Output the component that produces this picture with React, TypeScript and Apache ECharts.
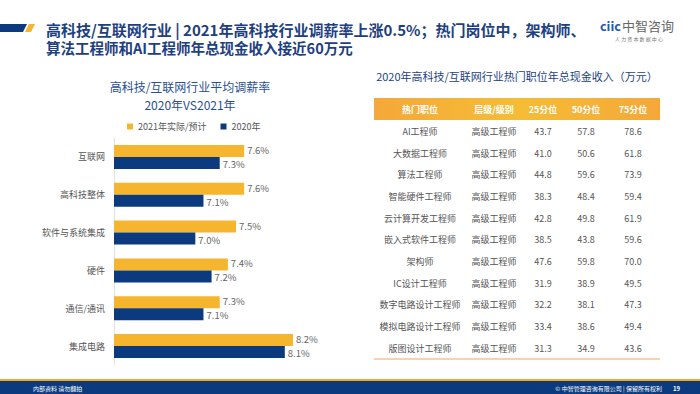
import React, { useEffect, useRef } from "react";
import * as echarts from "echarts";

const categories = ["互联网", "高科技整体", "软件与系统集成", "硬件", "通信/通讯", "集成电路"];
const series2021 = [7.6, 7.6, 7.5, 7.4, 7.3, 8.2];
const series2020 = [7.3, 7.1, 7.0, 7.2, 7.1, 8.1];
const legendNames = ["2021年实际/预计", "2020年"];

const tableHeader = ["热门职位", "层级/级别", "25分位", "50分位", "75分位"];
const jobs = ["AI工程师", "大数据工程师", "算法工程师", "智能硬件工程师", "云计算开发工程师", "嵌入式软件工程师", "架构师", "IC设计工程师", "数字电路设计工程师", "模拟电路设计工程师", "版图设计工程师"];
const levels = ["高级工程师", "高级工程师", "高级工程师", "高级工程师", "高级工程师", "高级工程师", "高级工程师", "高级工程师", "高级工程师", "高级工程师", "高级工程师"];
const p25 = [43.7, 41.0, 44.8, 38.3, 42.8, 38.5, 47.6, 31.9, 32.2, 33.4, 31.3];
const p50 = [57.8, 50.6, 59.6, 48.4, 49.8, 43.8, 59.8, 38.9, 38.1, 38.6, 34.9];
const p75 = [78.6, 61.8, 73.9, 59.4, 61.9, 59.6, 70.0, 49.5, 47.3, 49.4, 43.6];

const FONT = "'Noto Sans CJK SC', 'Noto Sans', sans-serif";
const YELLOW = "#F5B52E";
const NAVY = "#0B3A7E";
const TITLE_BLUE = "#1E3F80";

export default function App() {
  const ref = useRef<HTMLDivElement>(null);
  useEffect(() => {
    if (!ref.current) return;
    const chart = echarts.init(ref.current, null, { renderer: "svg" });

    const colX = [420, 494, 543, 586, 633];
    const rowY0 = 131.5;
    const rowH = 21.65;
    const tableEls: any[] = [];
    tableEls.push({
      type: "rect",
      shape: { x: 374, y: 98, width: 286, height: 22 },
      style: {
        fill: new echarts.graphic.LinearGradient(0, 0, 1, 0, [
          { offset: 0, color: "#F4A83A" },
          { offset: 0.5, color: "#F6BC36" },
          { offset: 1, color: "#F4A83A" },
        ]),
      },
    });
    tableHeader.forEach((h, i) => {
      tableEls.push({
        type: "text",
        x: colX[i],
        y: 109,
        style: { text: h, fill: "#fff", font: `bold 9px ${FONT}`, align: "center", verticalAlign: "middle" },
      });
    });
    jobs.forEach((j, r) => {
      const y = rowY0 + r * rowH;
      const vals = [j, levels[r], p25[r].toFixed(1), p50[r].toFixed(1), p75[r].toFixed(1)];
      vals.forEach((v, i) => {
        tableEls.push({
          type: "text",
          x: colX[i],
          y,
          style: { text: v, fill: "#555", font: `9px ${FONT}`, align: "center", verticalAlign: "middle" },
        });
      });
    });
    tableEls.push({
      type: "line",
      shape: { x1: 374, y1: 359, x2: 660, y2: 359 },
      style: { stroke: "#F5A35A", lineWidth: 1 },
    });

    const labelFmt = (p: any) => p.value.toFixed(1) + "%";

    const option: any = {
      animation: false,
      backgroundColor: "#ffffff",
      textStyle: { fontFamily: FONT },
      title: {
        text: "高科技/互联网行业平均调薪率\n2020年VS2021年",
        left: 185,
        top: 72,
        textAlign: "center",
        textStyle: { fontSize: 12, fontWeight: "normal", color: "#2A4F8F", lineHeight: 18, fontFamily: FONT },
      },
      legend: {
        top: 117,
        left: 122,
        itemWidth: 6,
        itemHeight: 6,
        itemGap: 14,
        icon: "rect",
        textStyle: { fontSize: 9, color: "#555", fontFamily: FONT },
        data: legendNames,
      },
      grid: { left: 114, top: 138, right: 342, bottom: 29, containLabel: false },
      xAxis: {
        type: "value",
        min: 6,
        max: 9,
        show: false,
      },
      yAxis: {
        type: "category",
        data: categories,
        inverse: true,
        axisLine: { show: true, lineStyle: { color: "#e0e0e0" } },
        axisTick: { show: false },
        axisLabel: { fontSize: 9, color: "#555", margin: 9, fontFamily: FONT },
      },
      series: [
        {
          name: legendNames[0],
          type: "bar",
          data: series2021,
          barWidth: 12,
          barGap: "0%",
          itemStyle: { color: YELLOW },
          label: { show: true, position: "right", distance: 3, offset: [0, -1], fontSize: 9.5, color: "#666", formatter: labelFmt },
        },
        {
          name: legendNames[1],
          type: "bar",
          data: series2020,
          barWidth: 12,
          barGap: "0%",
          itemStyle: { color: NAVY },
          label: { show: true, position: "right", distance: 3, offset: [0, 1], fontSize: 9.5, color: "#666", formatter: labelFmt },
        },
      ],
      graphic: [
        // title decoration
        { type: "polygon", shape: { points: [[0, 24], [27, 24], [23, 32], [0, 32]] }, style: { fill: NAVY } },
        { type: "polygon", shape: { points: [[29, 24], [35, 24], [31, 32], [25, 32]] }, style: { fill: YELLOW } },
        {
          type: "text", x: 46, y: 21,
          style: {
            text: "{a|高科技/互联网行业 | 2021年高科技行业调薪率上涨0.5%；热门岗位中，架构师、}\n{b|算法工程师和AI工程师年总现金收入接近60万元}",
            verticalAlign: "top",
            rich: {
              a: { fill: TITLE_BLUE, font: `bold 15px ${FONT}`, lineHeight: 17.5 },
              b: { fill: TITLE_BLUE, font: `bold 14.5px ${FONT}`, lineHeight: 17.5 },
            },
          },
        },
        // logo
        { type: "text", x: 600, y: 25, style: { text: "ciic", fill: "#2258A8", font: `bold 12.5px ${FONT}`, verticalAlign: "middle" } },
        { type: "text", x: 622, y: 25, style: { text: "中智咨询", fill: "#666", font: `13px ${FONT}`, verticalAlign: "middle" } },
        { type: "text", x: 639, y: 38.5, style: { text: "人 力 资 本 数 据 中 心", fill: "#777", font: `5px ${FONT}`, align: "center", verticalAlign: "middle" } },
        // table title
        {
          type: "text", x: 517, y: 76,
          style: { text: "2020年高科技/互联网行业热门职位年总现金收入（万元）", fill: TITLE_BLUE, font: `11px ${FONT}`, align: "center", verticalAlign: "middle" },
        },
        ...tableEls,
        // footer
        { type: "rect", shape: { x: 0, y: 379, width: 700, height: 2 }, style: { fill: "#F5A623" } },
        { type: "rect", shape: { x: 0, y: 381, width: 700, height: 13 }, style: { fill: NAVY } },
        { type: "text", x: 33, y: 388, style: { text: "内部资料 请勿翻拍", fill: "#fff", font: `6px ${FONT}`, verticalAlign: "middle" } },
        { type: "text", x: 662, y: 388, style: { text: "© 中智管理咨询有限公司 | 保留所有权利", fill: "#fff", font: `6px ${FONT}`, align: "right", verticalAlign: "middle" } },
        { type: "text", x: 673, y: 388, style: { text: "19", fill: "#fff", font: `bold 6px ${FONT}`, verticalAlign: "middle" } },
      ],
    };
    chart.setOption(option);
    return () => chart.dispose();
  }, []);
  return <div ref={ref} style={{ position: "fixed", left: 0, top: 0, width: 700, height: 394 }} />;
}
